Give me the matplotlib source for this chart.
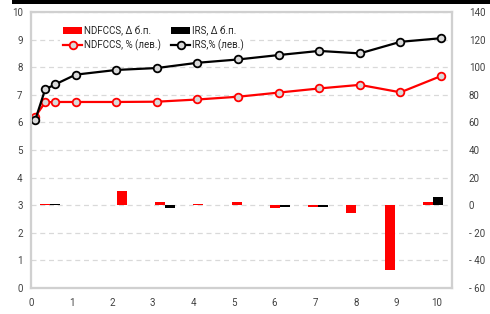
import matplotlib
matplotlib.use("Agg")
import matplotlib.pyplot as plt
from matplotlib.patches import Rectangle
import numpy as np

plt.rcParams['font.family'] = ['Roboto', 'DejaVu Sans']
plt.rcParams['font.size'] = 7

# tenors (years) for the lines
tenor = [0.1, 0.35, 0.6, 1.1, 2.1, 3.1, 4.1, 5.1, 6.1, 7.1, 8.1, 9.1, 10.1]
ndfccs_pct = [6.2, 6.73, 6.74, 6.74, 6.74, 6.75, 6.83, 6.93, 7.08, 7.23, 7.36, 7.09, 7.68]
irs_pct = [6.07, 7.2, 7.38, 7.73, 7.9, 7.97, 8.16, 8.28, 8.44, 8.59, 8.5, 8.92, 9.05]

# changes, bp (right axis), on category axis
bar_cats = ["6м", "1г", "2г", "3г", "4г", "5г", "6г", "7г", "8г", "9г", "10г"]
ndfccs_bp = [1, 0, 10, 2, 1, 2, -2, -1, -6, -47, 2]
irs_bp = [0.8, 0, 0, -2, 0, 0, -1, -1, 0, 0, 6]

left_ticks = list(range(0, 11))
right_ticks = list(range(-60, 141, 20))
right_labels = ["- 60", "- 40", "- 20", "0", "20", "40", "60", "80", "100", "120", "140"]

grid_c = "#d9d9d9"
txt_c = "#404040"

fig = plt.figure(figsize=(4.9, 3.14), dpi=100)
ax = fig.add_axes([31 / 490, 26 / 314, 421 / 490, 276 / 314])

ax.plot(tenor, ndfccs_pct, color="red", lw=1.6, marker="o", ms=5.5,
        mfc="#d9d9d9", mec="red", mew=1.3, label="NDFCCS, % (лев.)", zorder=3)
ax.plot(tenor, irs_pct, color="black", lw=1.6, marker="o", ms=5.5,
        mfc="#d9d9d9", mec="black", mew=1.3, label="IRS,% (лев.)", zorder=3)

ax.set_xlim(0, 10.37)
ax.set_ylim(0, 10)
ax.set_xticks(range(0, 11))
ax.set_yticks(left_ticks)
ax.yaxis.grid(True, color=grid_c, lw=0.9, ls=(0, (4, 3)))
ax.set_axisbelow(True)
ax.tick_params(length=0, colors=txt_c, labelsize=7)
ax.tick_params(axis="x", pad=7)
ax.tick_params(axis="y", pad=6)

axr = ax.twinx()
axr.set_ylim(-60, 140)
axr.set_yticks(right_ticks)
axr.set_yticklabels(right_labels)
axr.tick_params(length=0, colors=txt_c, labelsize=7, pad=12)
for lab in axr.get_yticklabels():
    lab.set_horizontalalignment("left")

axb = axr.twiny()
idx = np.arange(len(bar_cats))
w = 0.26
axb.bar(idx - w / 2, ndfccs_bp, width=w, color="red", label="NDFCCS, Δ б.п.", zorder=3)
axb.bar(idx + w / 2, irs_bp, width=w, color="black", label="IRS, Δ б.п.", zorder=3)
axb.set_xlim(-0.5, len(bar_cats) - 0.5)
axb.set_xticks([])

for a in (ax, axr, axb):
    for s in a.spines.values():
        s.set_color("#d0d0d0")
        s.set_linewidth(1.5)

h1, l1 = axb.get_legend_handles_labels()
h2, l2 = ax.get_legend_handles_labels()
handles = [h1[0], h2[0], h1[1], h2[1]]
labels = [l1[0], l2[0], l1[1], l2[1]]
leg = ax.legend(handles, labels, ncol=2, loc="upper left", bbox_to_anchor=(0.07, 0.96),
                frameon=True, framealpha=1, edgecolor="none", facecolor="white",
                fontsize=7, handlelength=2.0, handletextpad=0.2, columnspacing=1.0,
                labelspacing=0.4, borderpad=0.25, borderaxespad=0)
leg.set_zorder(2.5)
for t in leg.get_texts():
    t.set_color("#262626")

# thick black rule at the top
fig.add_artist(Rectangle((12 / 490, 1 - 4 / 314), 1, 4 / 314, transform=fig.transFigure,
                         color="black", lw=0))

fig.savefig("out.png", dpi=100)
